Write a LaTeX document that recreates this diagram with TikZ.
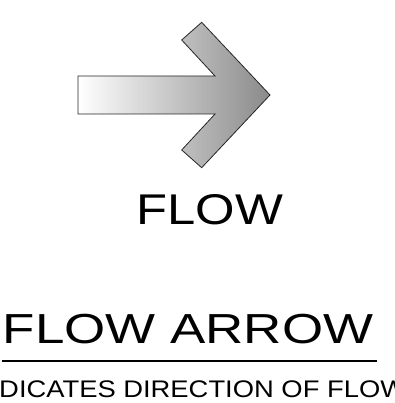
\documentclass[tikz,border=0pt]{standalone}
\usepackage{fontspec}
\setmainfont{Liberation Sans}
\usepackage{tikz}
\usepackage{xcolor}
\usetikzlibrary{positioning,calc}
\definecolor{arrowdark}{HTML}{8A8A8A}

\begin{document}
\begin{tikzpicture}[x=1pt,y=-1pt]
      \tikzstyle{lbl}=[inner sep=0pt,anchor=base,text=black];
      \tikzstyle{flowarrow}=[draw=black!85,line width=0.8pt,line join=miter,
                             left color=white,right color=arrowdark,shading angle=90];
      \clip (0,0) rectangle (394,403);
      % arrow
      \path[flowarrow] (78,76) -- (215,76) -- (181.7,40) -- (201.7,22.3) -- (270,95)
            -- (201.7,167.7) -- (181.7,150) -- (215,114) -- (78,114) -- cycle;
      \node[lbl] (flow)    at (210,224) {\fontsize{43}{43}\selectfont\scalebox{1.18}[1]{FLOW}};
      \node[lbl] (title)   at (188,343) {\fontsize{42}{42}\selectfont\scalebox{1.26}[1]{FLOW ARROW}};
      \node[lbl] (caption) at (189,397) {\fontsize{24}{24}\selectfont\scalebox{1.14}[1]{INDICATES DIRECTION OF FLOW}};
      \draw[line width=1.3pt] (2,361) -- (377,361);
    \end{tikzpicture}
\end{document}
